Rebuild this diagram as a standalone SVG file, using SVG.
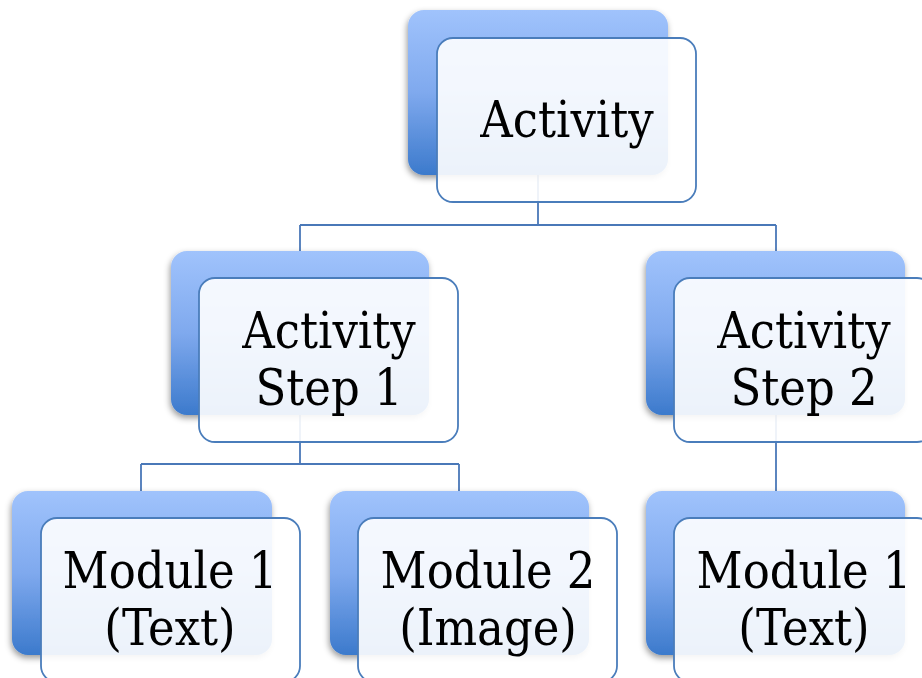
<svg xmlns="http://www.w3.org/2000/svg" width="922" height="678" viewBox="0 0 922 678">
  <defs>
    <linearGradient id="backFill" x1="0" y1="0" x2="0" y2="1">
      <stop offset="0" stop-color="#a0c3fc"/>
      <stop offset="0.5" stop-color="#7fa9ee"/>
      <stop offset="1" stop-color="#3c7acc"/>
    </linearGradient>
    <filter id="shadow" x="-10%" y="-10%" width="120%" height="125%">
      <feDropShadow dx="-1" dy="3" stdDeviation="3" flood-color="#000" flood-opacity="0.4"/>
    </filter>
  </defs>
  <style>
    .back { fill: url(#backFill); filter: url(#shadow); }
    .front { fill: #ffffff; fill-opacity: 0.9; stroke: #4a7dbb; stroke-width: 1.8; }
    .conn { fill: none; stroke: #4a78b8; stroke-width: 1.8; }
    .label { font-family: "DejaVu Serif Condensed", "Liberation Serif", serif; font-size: 50px; fill: #000; text-anchor: middle; }
  </style>
  <rect width="922" height="678" fill="#ffffff"/>

  <g id="connectors">
    <path class="conn" d="M538 175 V225 M300 225 H776 M300 225 V251 M776 225 V251"/>
    <path class="conn" d="M300 415 V464 M141 464 H459 M141 464 V491 M459 464 V491"/>
    <path class="conn" d="M776 415 V491"/>
  </g>

  <g id="activity">
    <rect class="back" x="408" y="10" width="260" height="165" rx="16"/>
    <rect class="front" x="437" y="38" width="259" height="164" rx="16"/>
    <text class="label" x="567" y="137">Activity</text>
  </g>

  <g id="step1">
    <rect class="back" x="171" y="251" width="258" height="164" rx="16"/>
    <rect class="front" x="199" y="278" width="259" height="164" rx="16"/>
    <text class="label" x="329" y="348">Activity</text>
    <text class="label" x="329" y="405">Step 1</text>
  </g>

  <g id="step2">
    <rect class="back" x="646" y="251" width="259" height="164" rx="16"/>
    <rect class="front" x="674" y="278" width="259" height="164" rx="16"/>
    <text class="label" x="804" y="348">Activity</text>
    <text class="label" x="804" y="405">Step 2</text>
  </g>

  <g id="module1-text">
    <rect class="back" x="12" y="491" width="260" height="164" rx="16"/>
    <rect class="front" x="41" y="518" width="259" height="164" rx="16"/>
    <text class="label" x="170" y="588">Module 1</text>
    <text class="label" x="170" y="645">(Text)</text>
  </g>

  <g id="module2-image">
    <rect class="back" x="330" y="491" width="259" height="164" rx="16"/>
    <rect class="front" x="358" y="518" width="259" height="164" rx="16"/>
    <text class="label" x="488" y="588">Module 2</text>
    <text class="label" x="488" y="645">(Image)</text>
  </g>

  <g id="module1-text-b">
    <rect class="back" x="646" y="491" width="259" height="164" rx="16"/>
    <rect class="front" x="674" y="518" width="259" height="164" rx="16"/>
    <text class="label" x="804" y="588">Module 1</text>
    <text class="label" x="804" y="645">(Text)</text>
  </g>
</svg>
